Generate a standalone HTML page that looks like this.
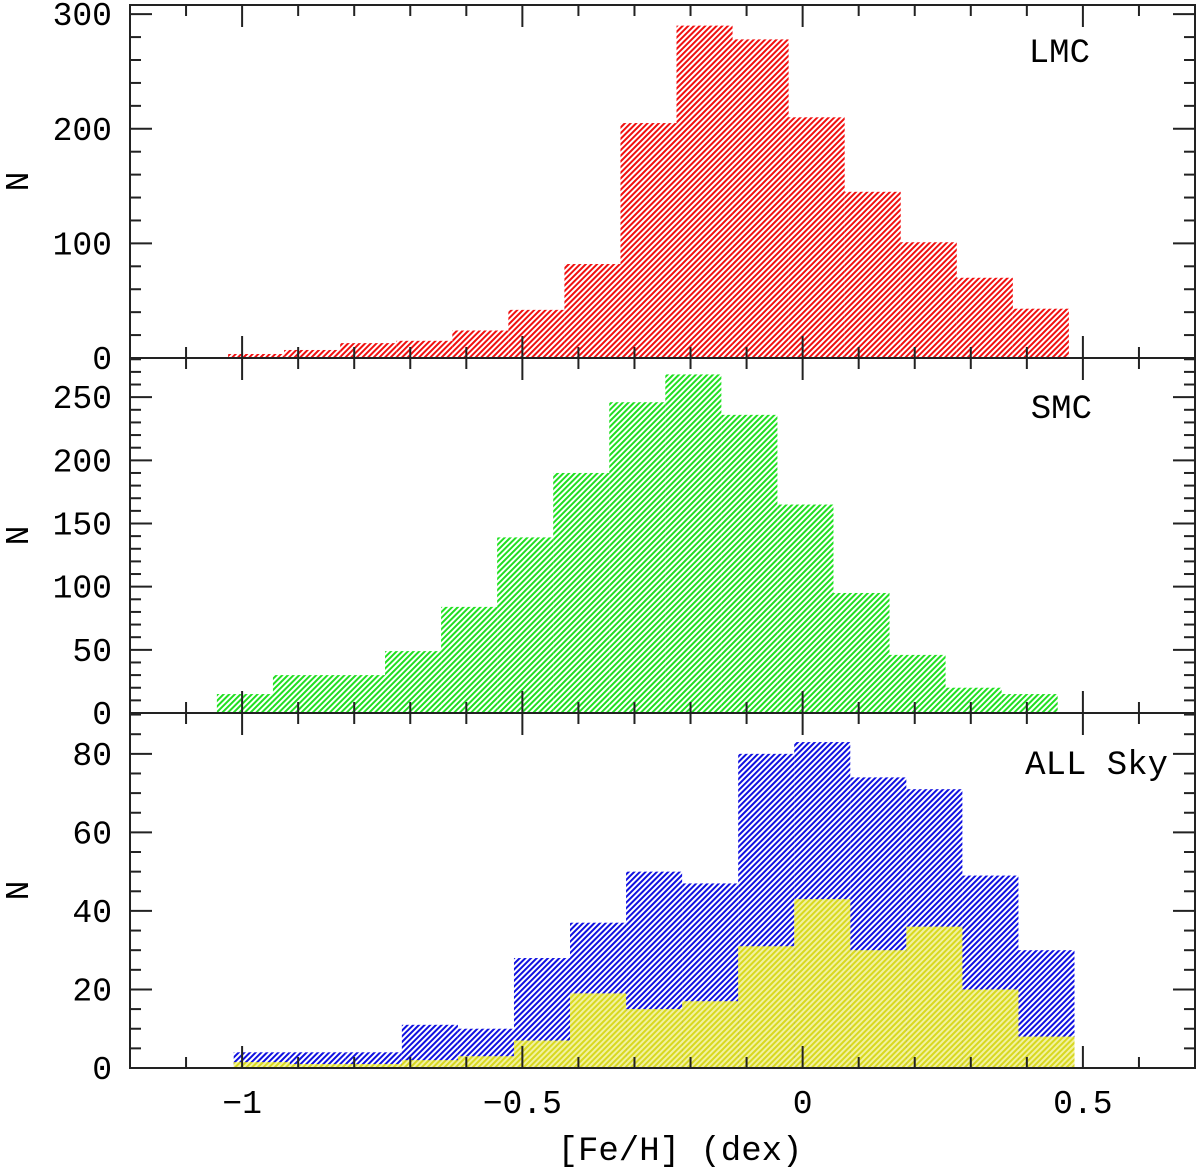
<!DOCTYPE html>
<html><head><meta charset="utf-8"><style>
html,body{margin:0;padding:0;background:#fff;}
svg text{font-family:"Liberation Mono","DejaVu Sans Mono",monospace;fill:#000;}
</style></head><body>
<svg id="chart" width="1200" height="1171" xmlns="http://www.w3.org/2000/svg">
<defs>
<pattern id="hr" patternUnits="userSpaceOnUse" width="4" height="4" patternTransform="rotate(45)"><rect width="4" height="4" fill="#fff"/><rect width="2" height="4" fill="#f01010"/></pattern>
<pattern id="hg" patternUnits="userSpaceOnUse" width="4" height="4" patternTransform="rotate(45)"><rect width="4" height="4" fill="#fff"/><rect width="2" height="4" fill="#20e020"/></pattern>
<pattern id="hb" patternUnits="userSpaceOnUse" width="4" height="4" patternTransform="rotate(45)"><rect width="4" height="4" fill="#fff"/><rect width="2" height="4" fill="#1010e0"/></pattern>
<pattern id="hy" patternUnits="userSpaceOnUse" width="4" height="4" patternTransform="rotate(45)"><rect width="4" height="4" fill="#f2f2a0"/><rect width="2" height="4" fill="#d8d820"/></pattern>
</defs>
<g id="marks"></g>
<g id="axes"></g>
</svg>
<script>
const lmcStart = -1.025;
const lmcCounts = [3.5, 7, 13, 15, 24, 42, 82, 205, 290, 278, 210, 145, 101, 70, 43];
const smcStart = -1.045;
const smcCounts = [15, 30, 30, 49, 84, 139, 190, 246, 268, 236, 165, 95, 46, 20, 15];
const skyStart = -1.015;
const skyAllCounts = [4, 4, 4, 11, 10, 28, 37, 50, 47, 80, 83, 74, 71, 49, 30];
const skySubCounts = [1.5, 1, 1, 2, 3, 7, 19, 15, 17, 31, 43, 30, 36, 20, 8];
const binWidth = 0.1;
const xTicks = [-1, -0.5, 0, 0.5];
const xTickLabels = ["\u22121", "\u22120.5", "0", "0.5"];

const X0 = 130, X1 = 1195, XMIN = -1.2, XMAX = 0.7;
const xs = v => X0 + (v - XMIN) / (XMAX - XMIN) * (X1 - X0);
const panels = [
 {name:'lmc', top:5, bot:358, ymax:308, major:100, minor:20, label:'LMC', labelX:1090, labelY:62,
  series:[{start:lmcStart, counts:lmcCounts, fill:'url(#hr)'}]},
 {name:'smc', top:358, bot:713, ymax:281, major:50, minor:10, label:'SMC', labelX:1092, labelY:418,
  series:[{start:smcStart, counts:smcCounts, fill:'url(#hg)'}]},
 {name:'all-sky', top:713, bot:1068, ymax:90.4, major:20, minor:5, label:'ALL Sky', labelX:1168, labelY:774,
  series:[{start:skyStart, counts:skyAllCounts, fill:'url(#hb)'},{start:skyStart, counts:skySubCounts, fill:'url(#hy)'}]}
];
const NS = 'http://www.w3.org/2000/svg';
function mk(tag, attrs, parent){const e=document.createElementNS(NS,tag);for(const k in attrs)e.setAttribute(k,attrs[k]);parent.appendChild(e);return e;}
const marks=document.getElementById('marks'), axes=document.getElementById('axes');
panels.forEach(p=>{
  const ys = v => p.bot - v/p.ymax*(p.bot-p.top);
  p.series.forEach((s,si)=>{
    s.counts.forEach((c,i)=>{
      const a=xs(s.start+i*binWidth), b=xs(s.start+(i+1)*binWidth);
      const r=mk('rect',{x:a,y:ys(c),width:b-a,height:p.bot-ys(c),fill:s.fill},marks);
      
      
    });
  });
  const fr=mk('rect',{x:X0,y:p.top,width:X1-X0,height:p.bot-p.top,fill:'none',stroke:'#222','stroke-width':2},axes);
  
  
  for(let v=0; v<=p.ymax+1e-6; v+=p.minor){
    const y=ys(v); const isMaj=Math.abs(v/p.major-Math.round(v/p.major))<1e-6;
    const L=isMaj?22:11;
    mk('line',{x1:X0,x2:X0+L,y1:y,y2:y,stroke:'#222','stroke-width':2},axes);
    mk('line',{x1:X1,x2:X1-L,y1:y,y2:y,stroke:'#222','stroke-width':2},axes);
    if(isMaj){const t=mk('text',{x:112,y:y+11,'font-size':33,'text-anchor':'end'},axes);t.textContent=String(Math.round(v));
      
      }
  }
  for(let k=-12;k<=7;k++){
    const v=k/10, x=xs(v), isMaj=(k%5===0), L=isMaj?22:11;
    mk('line',{x1:x,x2:x,y1:p.bot,y2:p.bot-L,stroke:'#222','stroke-width':2},axes);
    mk('line',{x1:x,x2:x,y1:p.top,y2:p.top+L,stroke:'#222','stroke-width':2},axes);
  }
  const yl=mk('text',{x:0,y:0,'font-size':33,'text-anchor':'middle',transform:`translate(28,${(p.top+p.bot)/2}) rotate(-90)`},axes);
  yl.textContent='N';
  
  
  const lb=mk('text',{x:p.labelX,y:p.labelY,'font-size':34,'text-anchor':'end'},axes);
  lb.textContent=p.label;
  
  
});
xTicks.forEach((v,i)=>{
  const t=mk('text',{x:xs(v),y:1113,'font-size':33,'text-anchor':'middle'},axes);
  t.textContent=xTickLabels[i];
  
  
});
const xt=mk('text',{x:680,y:1160,'font-size':34,'text-anchor':'middle'},axes);
xt.textContent='[Fe/H] (dex)';


</script>
</body></html>
